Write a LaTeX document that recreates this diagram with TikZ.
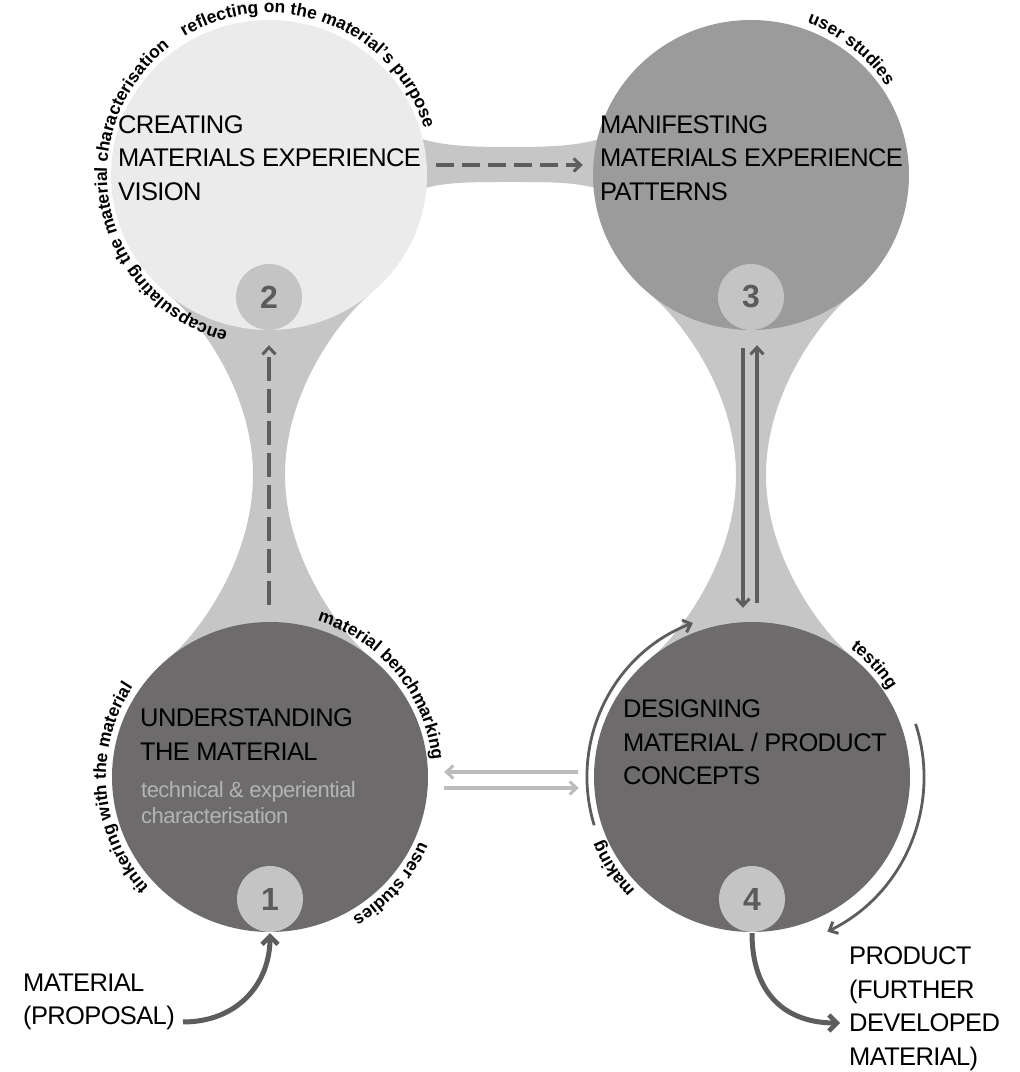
\documentclass[tikz,border=0pt]{standalone}
\usepackage{fontspec}
\setmainfont{Liberation Sans}
\newfontfamily\titlefam[LetterSpace=-2.5]{Liberation Sans}
\usetikzlibrary{arrows.meta,calc,decorations.text}
\definecolor{ctwo}{HTML}{EBEBEB}
\definecolor{cthree}{HTML}{9B9B9B}
\definecolor{cdark}{HTML}{6D6B6C}
\definecolor{bridgec}{HTML}{C6C6C6}
\definecolor{numfill}{HTML}{C4C4C4}
\definecolor{numtext}{HTML}{5B5B5B}
\definecolor{arrowc}{HTML}{5D5D5D}
\definecolor{lightarrow}{HTML}{BCBCBC}
\definecolor{subtext}{HTML}{B4B4B4}
\newcommand\lblfont{\bfseries\fontsize{17.5}{17.5}\selectfont}
\begin{document}
\begin{tikzpicture}[x=1pt,y=1pt,
  bigc/.style={circle, minimum size=312pt, inner sep=0pt, draw=none},
  numc/.style={circle, fill=numfill, minimum size=66pt, inner sep=0pt,
    font=\bfseries\fontsize{32}{32}\selectfont, text=numtext},
  title/.style={anchor=north west, inner sep=0pt, align=left,
    font=\titlefam\fontsize{25.5}{33.5}\selectfont},
  bridge/.style={fill=bridgec},
  darkarrow/.style={draw=arrowc, line width=3.2pt, -{Straight Barb[length=7pt,width=13pt,line width=3pt]}},
  thickarrow/.style={draw=arrowc, line width=5pt, -{Straight Barb[length=8pt,width=16pt,line width=4.5pt]}},
  lightarr/.style={draw=lightarrow, line width=3.2pt, -{Straight Barb[length=7pt,width=13pt,line width=3pt]}},
  arclabel/.style={decorate, decoration={text along path, text align=center, text={|\lblfont|#1}}}
]
\useasboundingbox (0,0) rectangle (1020,1072);

% circle placeholders (for anchors)
\path (269,897) node[bigc] (c2) {};
\path (751,897) node[bigc] (c3) {};
\path (270,295) node[bigc] (c1) {};
\path (752,295) node[bigc] (c4) {};

% bridges
\coordinate (lmr) at (285,597);
\coordinate (lml) at (253,597);
\coordinate (rmr) at (766,597);
\coordinate (rml) at (736,597);
\fill[bridge] (c2.-50) .. controls +(220:40) and +(0,83) .. (lmr)
  .. controls +(0,-83) and +(140:40) .. (c1.50) -- (c1.130)
  .. controls +(40:40) and +(0,-83) .. (lml)
  .. controls +(0,83) and +(-40:40) .. (c2.230) -- cycle;
\fill[bridge] (c3.-50) .. controls +(220:40) and +(0,83) .. (rmr)
  .. controls +(0,-83) and +(140:40) .. (c4.50) -- (c4.130)
  .. controls +(40:40) and +(0,-83) .. (rml)
  .. controls +(0,83) and +(-40:40) .. (c3.230) -- cycle;
\fill[bridge] (400,942) -- (422,933) .. controls (445,926) and (470,925) .. (510,925)
  .. controls (550,925) and (575,926) .. (600,933) -- (620,942) -- (620,872)
  -- (600,883) .. controls (575,890) and (550,890) .. (510,890)
  .. controls (470,890) and (445,890) .. (422,883) -- (400,872) -- cycle;

% circles
\fill[ctwo] (c2.center) ellipse[x radius=158, y radius=155];
\fill[cthree] (c3.center) ellipse[x radius=158, y radius=155];
\fill[cdark] (c1.center) ellipse[x radius=158, y radius=155];
\fill[cdark] (c4.center) ellipse[x radius=158, y radius=155];

% number circles
\node[numc] (n2) at ($(c2.center)+(0,-122)$) {2};
\node[numc] (n3) at ($(c3.center)+(0,-122)$) {3};
\node[numc] (n1) at ($(c1.center)+(0,-122)$) {1};
\node[numc] (n4) at ($(c4.center)+(0,-122)$) {4};

% connectors
\draw[darkarrow, dash pattern=on 18pt off 8pt] ($(c2.east)+(11,10)$) -- ($(c3.west)+(-12,10)$);
\draw[darkarrow, dash pattern=on 24pt off 8pt] ($(c1.north)+(-1,16)$) -- ($(n2.south)+(0,-15)$);
\draw[darkarrow] ($(n3.south)+(-8,-18)$) -- ($(c4.north)+(-9,13)$);
\draw[darkarrow] ($(c4.north)+(5,18)$) -- ($(n3.south)+(6,-15)$);
\draw[lightarr] ($(c4.west)+(-18,5)$) -- ($(c1.east)+(18,5)$);
\draw[lightarr] ($(c1.east)+(18,-11)$) -- ($(c4.west)+(-17,-11)$);
\draw[darkarrow, line width=2.8pt] ($(c4.center)+(197:165)$) arc[start angle=197, end angle=111, radius=165];
\draw[darkarrow, line width=2.8pt] ($(c4.center)+(18:172)$) arc[start angle=18, end angle=-64, radius=172];

\coordinate (matin) at (183,50);
\coordinate (prodin) at (840,49);
\draw[thickarrow] (matin) .. controls +(55,0) and +(0,-50) .. (c1.south);
\draw[thickarrow] (c4.south) .. controls +(0,-60) and +(-55,0) .. (prodin);

% titles
\node[title] (t2) at (118,956.5) {CREATING\\MATERIALS EXPERIENCE\\VISION};
\node[title] (t3) at (600,956.5) {MANIFESTING\\MATERIALS EXPERIENCE\\PATTERNS};
\node[title] (t1) at (140,363.5) {UNDERSTANDING\\THE MATERIAL};
\node[anchor=north west, inner sep=0pt, align=left, text=subtext,
  font=\titlefam\fontsize{22}{26.5}\selectfont] (s1) at (141,291) {technical \& experiential\\characterisation};
\node[title] (t4) at (623,372.5) {DESIGNING\\MATERIAL / PRODUCT\\CONCEPTS};
\node[title] (mat) at (23,98.5) {MATERIAL\\(PROPOSAL)};
\node[title] (prod) at (849,125.5) {PRODUCT\\(FURTHER\\DEVELOPED\\MATERIAL)};

% curved labels
\path[arclabel={reflecting on the material's purpose}] ($(c2.center)+(150:162)$) arc[start angle=150, end angle=-12, radius=162];
\path[arclabel={encapsulating the material characterisation}] ($(c2.center)+(280:162)$) arc[start angle=280, end angle=103, radius=162];
\path[arclabel={user studies}] ($(c3.center)+(90:162)$) arc[start angle=90, end angle=13, radius=162];
\path[arclabel={material benchmarking}] ($(c1.center)+(80:163)$) arc[start angle=80, end angle=-1, radius=163];
\path[arclabel={tinkering with the material}] ($(c1.center)+(225:164)$) arc[start angle=225, end angle=144, radius=164];
\path[arclabel={user studies}] ($(c1.center)+(-15:163)$) arc[start angle=-15, end angle=-68, radius=163];
\path[arclabel={testing}] ($(c4.center)+(60:162)$) arc[start angle=60, end angle=25, radius=162];
\path[arclabel={making}] ($(c4.center)+(232:163)$) arc[start angle=232, end angle=195, radius=163];
\end{tikzpicture}
\end{document}
